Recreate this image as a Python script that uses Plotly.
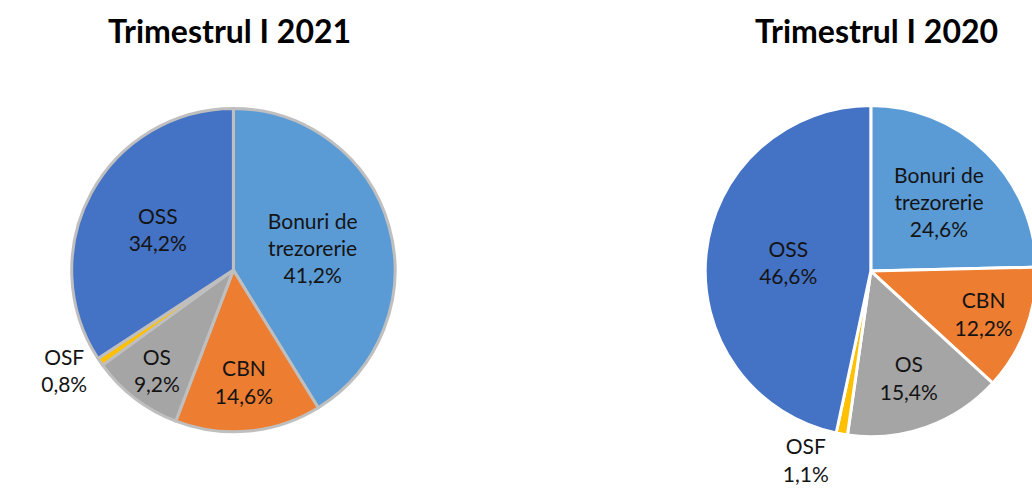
import plotly.graph_objects as go

categories = ["Bonuri de trezorerie", "CBN", "OS", "OSF", "OSS"]
values_2021 = [41.2, 14.6, 9.2, 0.8, 34.2]
values_2020 = [24.6, 12.2, 15.4, 1.1, 46.6]
titles = ["Trimestrul I 2021", "Trimestrul I 2020"]
colors = ["#5B9BD5", "#ED7D31", "#A5A5A5", "#FFC000", "#4472C4"]

W, H = 1045, 491
FONT = "Lato, 'Open Sans', sans-serif"


def label_text(vals):
    out = []
    for c, v in zip(categories, vals):
        name = c.replace("de ", "de<br>")
        out.append(f"{name}<br>{v:.1f}%".replace(".", ","))
    return out


def dom(cx, cy, r):
    return dict(x=[(cx - r) / W, (cx + r) / W], y=[(H - cy - r) / H, (H - cy + r) / H])


fig = go.Figure()
fig.add_trace(go.Pie(
    labels=categories, values=values_2021, text=label_text(values_2021),
    textinfo="text", sort=False, direction="clockwise", rotation=0,
    marker=dict(colors=colors, line=dict(color="#BFBFBF", width=3)),
    textposition=["inside", "inside", "inside", "outside", "inside"],
    insidetextorientation="horizontal",
    textfont=dict(family=FONT, size=21, color="#141414"),
    domain=dom(234.5, 274, 164), showlegend=False, hoverinfo="label+value",
))
fig.add_trace(go.Pie(
    labels=categories, values=values_2020, text=label_text(values_2020),
    textinfo="text", sort=False, direction="clockwise", rotation=0,
    marker=dict(colors=colors, line=dict(color="#FFFFFF", width=3)),
    textposition=["inside", "inside", "inside", "outside", "inside"],
    insidetextorientation="horizontal",
    textfont=dict(family=FONT, size=21, color="#141414"),
    domain=dom(875, 275, 168), showlegend=False, hoverinfo="label+value",
))

for t, cx in zip(titles, [231, 881]):
    fig.add_annotation(text=f"<b>{t}</b>", x=cx / W, y=1 - 31 / H, xref="paper", yref="paper",
                       showarrow=False, xanchor="center", yanchor="middle",
                       font=dict(family=FONT, size=32, color="#000000"))

fig.update_layout(width=W, height=H, margin=dict(l=0, r=0, t=0, b=0),
                  paper_bgcolor="white", plot_bgcolor="white")

fig.write_html("out.html", config={"displayModeBar": False},
               post_script="document.body.style.margin='0';document.body.style.overflow='hidden';")
